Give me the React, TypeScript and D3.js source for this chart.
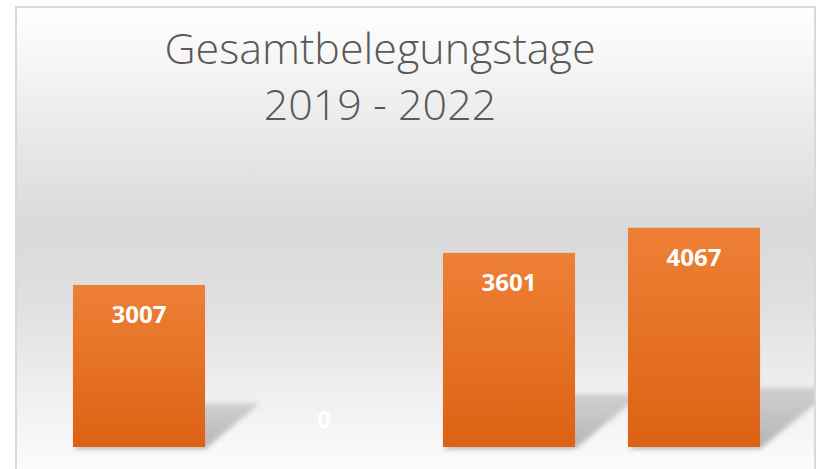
import React from "react";
import * as d3 from "d3";

const years = ["2019", "2020", "2021", "2022"];
const belegungstage = [3007, 0, 3601, 4067];
const titleLines = ["Gesamtbelegungstage", "2019 - 2022"];

const W = 817;
const H = 469;

export default function App() {
  // plot area
  const x = d3.scaleBand<string>()
    .domain(years)
    .range([46.5, 786.5])
    .paddingInner(0.286)
    .paddingOuter(0.143);

  const y = d3.scaleLinear()
    .domain([0, 4500])
    .range([447, 447 - 0.0539 * 4500]);

  const base = y(0);

  return (
    <svg width={W} height={H} style={{ position: "absolute", left: 0, top: 0 }}
      fontFamily="'Open Sans', sans-serif">
      <defs>
        <linearGradient id="bg" x1="0" y1="0" x2="0" y2="1">
          <stop offset="0" stopColor="#ffffff" />
          <stop offset="0.46" stopColor="#d9d9d9" />
          <stop offset="0.62" stopColor="#e0e0e0" />
          <stop offset="1" stopColor="#ffffff" />
        </linearGradient>
        <linearGradient id="bar" x1="0" y1="0" x2="0" y2="1">
          <stop offset="0" stopColor="#ee8036" />
          <stop offset="1" stopColor="#dc6213" />
        </linearGradient>
        <linearGradient id="shade" x1="0" y1="1" x2="0" y2="0">
          <stop offset="0" stopColor="#a8a8a8" stopOpacity="0.85" />
          <stop offset="1" stopColor="#b8b8b8" stopOpacity="0.6" />
        </linearGradient>
        <filter id="blur" x="-20%" y="-20%" width="140%" height="140%">
          <feGaussianBlur stdDeviation="2.5" />
        </filter>
        <clipPath id="area">
          <rect x={17} y={8} width={797} height={H} />
        </clipPath>
      </defs>

      <rect x={0} y={0} width={W} height={H} fill="#ffffff" />
      <rect x={16} y={7} width={799} height={480} fill="url(#bg)"
        stroke="#d9d9d9" strokeWidth={2} />

      <g clipPath="url(#area)">
        {/* perspective shadows */}
        {years.map((yr, i) => {
          const v = belegungstage[i];
          if (!v) return null;
          const x0 = x(yr)!;
          const x1 = x0 + x.bandwidth();
          const h = base - y(v);
          const dx = 0.34 * h;
          const dy = 0.27 * h;
          const pts = [
            [x0, base + 2],
            [x1, base + 2],
            [x1 + dx, base - dy],
            [x0 + dx, base - dy],
          ];
          return (
            <polygon key={"s" + yr} points={pts.map(p => p.join(",")).join(" ")}
              fill="url(#shade)" filter="url(#blur)" />
          );
        })}

        {years.map((yr, i) => (
          <rect key={yr} x={x(yr)} y={y(belegungstage[i])}
            width={x.bandwidth()} height={base - y(belegungstage[i])}
            fill="url(#bar)" />
        ))}

        {years.map((yr, i) => {
          const v = belegungstage[i];
          const ty = v ? y(v) + 38 : base - 19;
          return (
            <text key={"l" + yr} x={x(yr)! + x.bandwidth() / 2} y={ty}
              textAnchor="middle" fontSize={24} fontWeight={700} fill="#ffffff">
              {v}
            </text>
          );
        })}
      </g>

      {titleLines.map((t, i) => (
        <text key={t} x={380} y={64 + i * 56} textAnchor="middle"
          fontSize={43} fontWeight={300} fill="#595959">
          {t}
        </text>
      ))}
    </svg>
  );
}
